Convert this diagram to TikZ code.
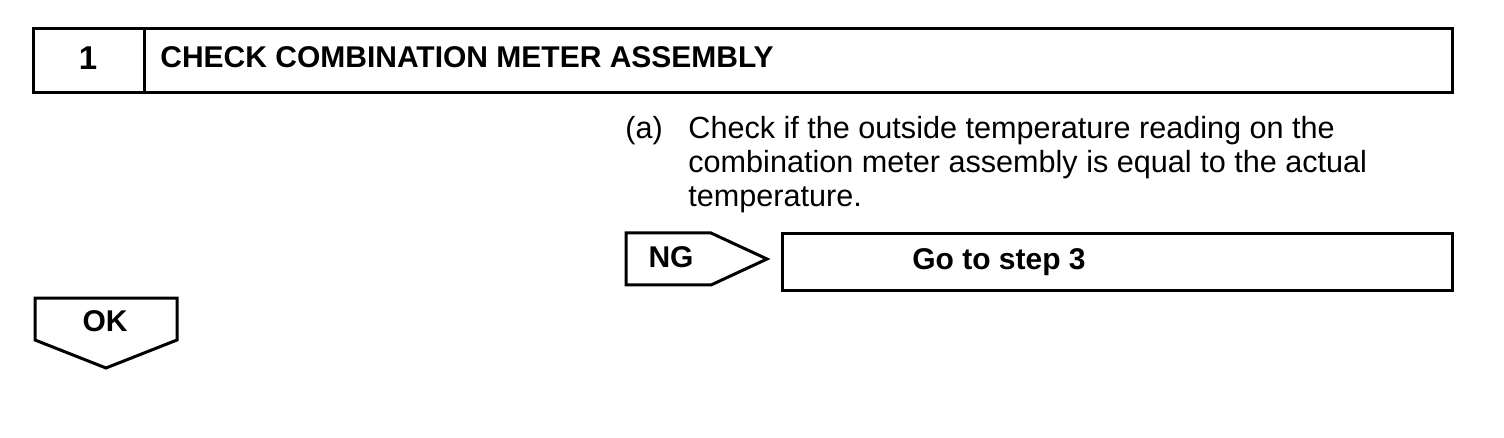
\documentclass[tikz,border=0pt]{standalone}
\usepackage{fontspec}
\setmainfont{Liberation Sans}
\begin{document}
\begin{tikzpicture}[x=0.5pt,y=-0.5pt,
  frame/.style={draw=black,line width=1.5pt,line join=miter},
  boldtxt/.style={font=\fontsize{15}{17}\selectfont\bfseries,inner sep=0pt},
  numtxt/.style={font=\fontsize{16.5}{18}\selectfont\bfseries,inner sep=0pt},
  bodytxt/.style={font=\fontsize{15.3}{17}\selectfont,inner sep=0pt}]
\useasboundingbox[fill=white] (0,0) rectangle (1504,438);
% header
\draw[frame] (33,29) rectangle (1452,93);
\draw[frame] (144,29) -- (144,93);
\node[numtxt,anchor=base] (num) at (88,70) {1};
\node[boldtxt,anchor=base west] (title) at (160,68) {CHECK COMBINATION METER ASSEMBLY};
% instruction
\node[bodytxt,anchor=base west] (lbl) at (625,139) {(a)};
\node[bodytxt,anchor=base west] (l1) at (688,139) {Check if the outside temperature reading on the};
\node[bodytxt,anchor=base west] (l2) at (688,173) {combination meter assembly is equal to the actual};
\node[bodytxt,anchor=base west] (l3) at (688,207) {temperature.};
% NG arrow
\draw[frame] (626,233) -- (711,233) -- (767,259) -- (711,285) -- (626,285) -- cycle;
\node[boldtxt,anchor=base] (ng) at (671,268) {NG};
% Go to step box
\draw[frame] (782,234) rectangle (1452,291);
\node[boldtxt,anchor=base] (go) at (999,270) {Go to step 3};
% OK arrow
\draw[frame] (35,298) -- (177,298) -- (177,340) -- (106,368) -- (35,340) -- cycle;
\node[boldtxt,anchor=base] (ok) at (105,331) {OK};
\end{tikzpicture}
\end{document}
